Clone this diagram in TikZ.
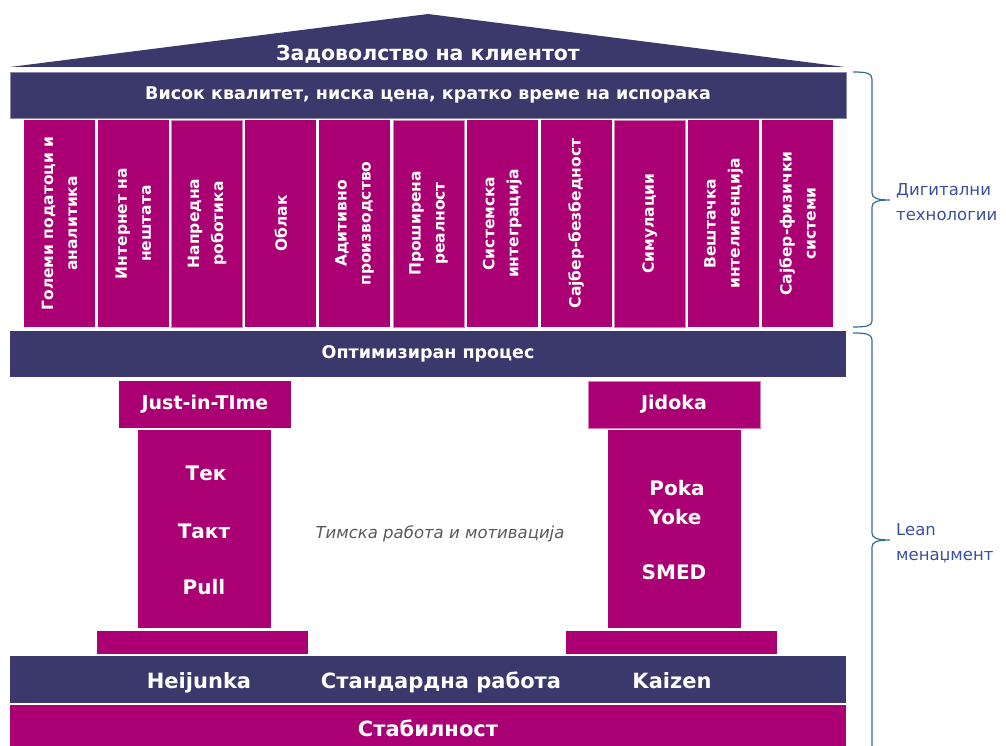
\documentclass[tikz,border=0pt]{standalone}
\usepackage{fontspec}
\setmainfont{DejaVu Sans}
\definecolor{navy}{RGB}{59,57,107}
\definecolor{mag}{RGB}{170,0,115}
\definecolor{bracec}{RGB}{49,112,140}
\definecolor{lbl}{RGB}{58,80,158}
\definecolor{gr}{RGB}{89,89,89}
\definecolor{pinkedge}{RGB}{214,130,186}
\begin{document}
\begin{tikzpicture}[x=1pt,y=-1pt,
  navybar/.style={fill=navy, text=white, inner sep=0pt, outer sep=0pt,
    minimum width=836pt, minimum height=46pt, font=\bfseries\fontsize{17.5}{20}\selectfont},
  magbar/.style={fill=mag, text=white, inner sep=0pt, outer sep=0pt,
    minimum width=836pt, minimum height=47pt, font=\bfseries\fontsize{21}{24}\selectfont},
  magbox/.style={fill=mag, text=white, inner sep=0pt, outer sep=0pt,
    font=\bfseries\fontsize{19}{24}\selectfont},
  techcol/.style={fill=mag, text=white, inner sep=0pt, outer sep=0pt,
    minimum width=207pt, minimum height=71pt, rotate=90, align=center,
    font=\bfseries\fontsize{15.5}{24}\selectfont},
  shafttxt/.style={text=white, inner sep=0pt, font=\bfseries\fontsize{20}{24}\selectfont},
  bartxt/.style={text=white, inner sep=0pt, anchor=base, font=\bfseries\fontsize{21}{24}\selectfont},
  bracel/.style={draw=bracec, line width=1.2pt},
  sidelbl/.style={text=lbl, inner sep=0pt, anchor=west, align=left,
    font=\fontsize{16.5}{25}\selectfont}
]
\useasboundingbox (0,0) rectangle (1006,746);
\clip (0,0) rectangle (1006,746);

% roof
\fill[navy] (10,67) -- (428,14) -- (845,67) -- cycle;
\node[text=white, inner sep=0pt, font=\bfseries\fontsize{20.5}{24}\selectfont] (roof) at (428,54) {Задоволство на клиентот};

% top bar
\node[navybar, draw=navy!60!white, line width=0.8pt] (top) at (428,95) {Висок квалитет, ниска цена, кратко време на испорака};

% technology columns
\foreach \i/\t in {0/{Големи податоци и\\аналитика},
                   1/{Интернет на\\нештата},
                   2/{Напредна\\роботика},
                   3/{Облак},
                   4/{Адитивно\\производство},
                   5/{Проширена\\реалност},
                   6/{Системска\\интеграција},
                   7/{Сајбер-безбедност},
                   8/{Симулации},
                   9/{Вештачка\\интелигенција},
                   10/{Сајбер-физички\\системи}}{
  \node[techcol] (c\i) at ({59.5+73.8*\i},223.5) {\t};
}
\foreach \i in {2,5,8}{
  \draw[pinkedge, line width=0.8pt] (c\i.north west) rectangle (c\i.south east);
}

% middle bar
\node[navybar] (mid) at (428,354) {Оптимизиран процес};

% left pillar
\node[magbox, minimum width=172pt, minimum height=47pt] (jit) at (205,404.5) {Just-in-TIme};
\node[magbox, minimum width=133pt, minimum height=198pt] (lshaft) at (204.5,529) {};
\node[magbox, minimum width=211pt, minimum height=23pt] (lbase) at (202.5,642.5) {};
\node[shafttxt] (tek) at (206,473) {Тек};
\node[shafttxt] (takt) at (204,531) {Такт};
\node[shafttxt] (pull) at (204,587) {Pull};

% right pillar
\node[magbox, minimum width=172pt, minimum height=47pt, draw=pinkedge, line width=0.6pt] (jid) at (674,404.5) {Jidoka};
\node[magbox, minimum width=133pt, minimum height=198pt] (rshaft) at (674.5,529) {};
\node[magbox, minimum width=211pt, minimum height=23pt] (rbase) at (671.5,642.5) {};
\node[shafttxt] (poka) at (677,488) {Poka};
\node[shafttxt] (yoke) at (675,517) {Yoke};
\node[shafttxt] (smed) at (674,572) {SMED};

% centre text
\node[text=gr, inner sep=0pt, font=\itshape\fontsize{16.5}{20}\selectfont] (team) at (440,534) {Тимска работа и мотивација};

% bottom bars
\node[navybar, minimum height=47pt] (bot) at (428,679.5) {};
\node[bartxt] (heij) at (199,688) {Heijunka};
\node[bartxt] (std) at (441,688) {Стандардна работа};
\node[bartxt] (kai) at (672,688) {Kaizen};
\node[magbar] (stab) at (428,728.5) {Стабилност};

% braces
\draw[bracel] (853,72) .. controls (866,72) and (872,73) .. (872,79)
  -- (872,193) .. controls (872,198) and (877,200) .. (890,200)
  .. controls (877,200) and (872,202) .. (872,207)
  -- (872,321) .. controls (872,326) and (866,327) .. (853,327);
\draw[bracel] (853,333) .. controls (866,333) and (872,334) .. (872,340)
  -- (872,533) .. controls (872,538) and (877,540) .. (890,540)
  .. controls (877,540) and (872,542) .. (872,547)
  -- (872,752);

\node[sidelbl] (dig) at (896,202) {Дигитални\\технологии};
\node[sidelbl] (lean) at (896,543) {Lean\\менаџмент};
\end{tikzpicture}
\end{document}
